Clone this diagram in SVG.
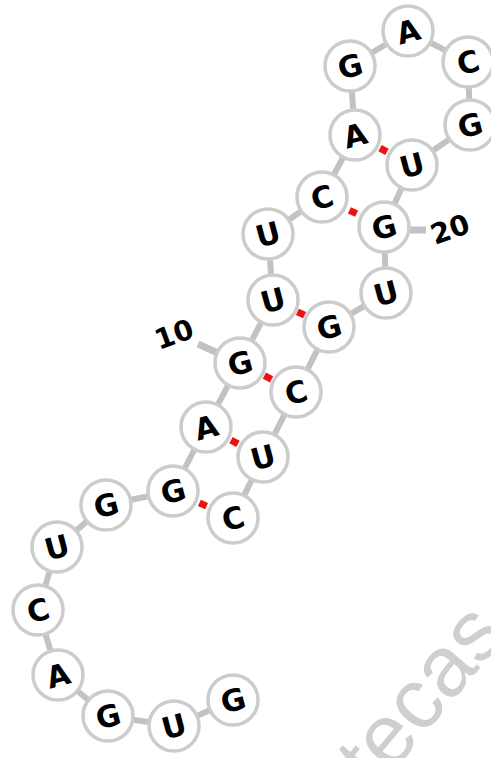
<svg xmlns="http://www.w3.org/2000/svg" width="491" height="758" viewBox="0 0 491 758">
  <style>
    .bb { stroke: #c2c2c2; stroke-width: 6; stroke-linecap: butt; fill: none; }
    .bp { stroke: #ee1111; stroke-width: 7; fill: none; }
    .tick { stroke: #c2c2c2; stroke-width: 7; }
    .nt circle { fill: #ffffff; stroke: #cccccc; stroke-width: 3.5; }
    .nt text { font-family: "DejaVu Sans", Verdana, sans-serif; font-weight: bold; font-size: 30px; fill: #000000; text-anchor: middle; }
    .num { font-family: "DejaVu Sans", Verdana, sans-serif; font-weight: bold; font-size: 28px; fill: #000000; text-anchor: middle; }
    .wm { font-family: "Liberation Sans", Arial, sans-serif; font-size: 86px; fill: #cfcfcf; }
  </style>

  <rect width="491" height="758" fill="#ffffff"/>

  <!-- faint watermark -->
  <text class="wm" x="376" y="792" transform="rotate(-50 376 792)">tecas</text>

  <!-- backbone, base pairs and numbering ticks -->
  <g id="connectors">
    <polyline class="bb" points="233,700 174,726 108,716 58,675 38,610 57,547 106,505 173,491 206,427 240,363 273,300 268,234 322,197 355,135 350,66 408,31 468,62 470,125 412,165 384,227 386,293 329,327 296,392 263,457 233,518"/>
    <line class="bp" x1="380" y1="148.1" x2="387" y2="151.9"/>
    <line class="bp" x1="349.4" y1="210.3" x2="356.6" y2="213.7"/>
    <line class="bp" x1="297.4" y1="311.8" x2="304.6" y2="315.2"/>
    <line class="bp" x1="264.4" y1="375.7" x2="271.6" y2="379.3"/>
    <line class="bp" x1="231" y1="440.1" x2="238" y2="443.9"/>
    <line class="bp" x1="199.4" y1="502.9" x2="206.6" y2="506.1"/>
    <line class="tick" x1="198" y1="344" x2="240" y2="363"/>
    <line class="tick" x1="384" y1="230" x2="426" y2="230"/>
  </g>

  <text class="num" x="174" y="344" transform="rotate(-20 174 334)">10</text>
  <text class="num" x="450" y="239" transform="rotate(-20 450 229)">20</text>

  <g id="n1" class="nt"><circle cx="233" cy="700" r="25"/><text x="233" y="711" transform="rotate(-15 233 700)">G</text></g>
  <g id="n2" class="nt"><circle cx="174" cy="726" r="25"/><text x="174" y="737" transform="rotate(-15 174 726)">U</text></g>
  <g id="n3" class="nt"><circle cx="108" cy="716" r="25"/><text x="108" y="727" transform="rotate(-15 108 716)">G</text></g>
  <g id="n4" class="nt"><circle cx="58" cy="675" r="25"/><text x="58" y="686" transform="rotate(-15 58 675)">A</text></g>
  <g id="n5" class="nt"><circle cx="38" cy="610" r="25"/><text x="38" y="621" transform="rotate(-15 38 610)">C</text></g>
  <g id="n6" class="nt"><circle cx="57" cy="547" r="25"/><text x="57" y="558" transform="rotate(-15 57 547)">U</text></g>
  <g id="n7" class="nt"><circle cx="106" cy="505" r="25"/><text x="106" y="516" transform="rotate(-15 106 505)">G</text></g>
  <g id="n8" class="nt"><circle cx="173" cy="491" r="25"/><text x="173" y="502" transform="rotate(-15 173 491)">G</text></g>
  <g id="n9" class="nt"><circle cx="206" cy="427" r="25"/><text x="206" y="438" transform="rotate(-15 206 427)">A</text></g>
  <g id="n10" class="nt"><circle cx="240" cy="363" r="25"/><text x="240" y="374" transform="rotate(-15 240 363)">G</text></g>
  <g id="n11" class="nt"><circle cx="273" cy="300" r="25"/><text x="273" y="311" transform="rotate(-15 273 300)">U</text></g>
  <g id="n12" class="nt"><circle cx="268" cy="234" r="25"/><text x="268" y="245" transform="rotate(-15 268 234)">U</text></g>
  <g id="n13" class="nt"><circle cx="322" cy="197" r="25"/><text x="322" y="208" transform="rotate(-15 322 197)">C</text></g>
  <g id="n14" class="nt"><circle cx="355" cy="135" r="25"/><text x="355" y="146" transform="rotate(-15 355 135)">A</text></g>
  <g id="n15" class="nt"><circle cx="350" cy="66" r="25"/><text x="350" y="77" transform="rotate(-15 350 66)">G</text></g>
  <g id="n16" class="nt"><circle cx="408" cy="31" r="25"/><text x="408" y="42" transform="rotate(-15 408 31)">A</text></g>
  <g id="n17" class="nt"><circle cx="468" cy="62" r="25"/><text x="468" y="73" transform="rotate(-15 468 62)">C</text></g>
  <g id="n18" class="nt"><circle cx="470" cy="125" r="25"/><text x="470" y="136" transform="rotate(-15 470 125)">G</text></g>
  <g id="n19" class="nt"><circle cx="412" cy="165" r="25"/><text x="412" y="176" transform="rotate(-15 412 165)">U</text></g>
  <g id="n20" class="nt"><circle cx="384" cy="227" r="25"/><text x="384" y="238" transform="rotate(-15 384 227)">G</text></g>
  <g id="n21" class="nt"><circle cx="386" cy="293" r="25"/><text x="386" y="304" transform="rotate(-15 386 293)">U</text></g>
  <g id="n22" class="nt"><circle cx="329" cy="327" r="25"/><text x="329" y="338" transform="rotate(-15 329 327)">G</text></g>
  <g id="n23" class="nt"><circle cx="296" cy="392" r="25"/><text x="296" y="403" transform="rotate(-15 296 392)">C</text></g>
  <g id="n24" class="nt"><circle cx="263" cy="457" r="25"/><text x="263" y="468" transform="rotate(-15 263 457)">U</text></g>
  <g id="n25" class="nt"><circle cx="233" cy="518" r="25"/><text x="233" y="529" transform="rotate(-15 233 518)">C</text></g>
</svg>
